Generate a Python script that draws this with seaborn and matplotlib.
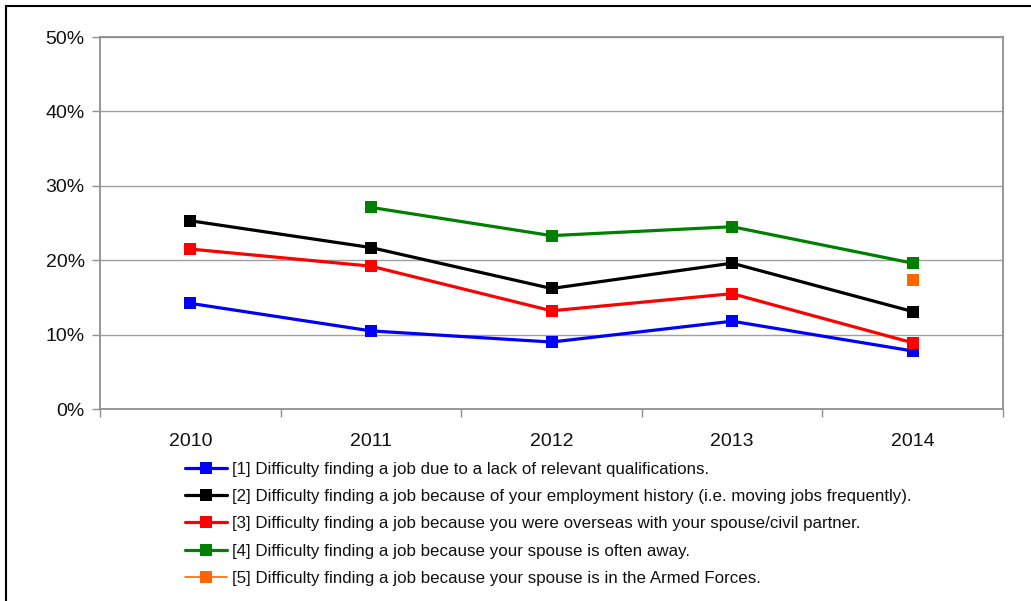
import matplotlib
matplotlib.use("Agg")
import matplotlib.pyplot as plt
from matplotlib.lines import Line2D
from matplotlib.patches import Rectangle
import numpy as np
import pandas as pd
import seaborn as sns

years = [2010, 2011, 2012, 2013, 2014]
qualifications = [14.2, 10.5, 9.0, 11.8, 7.8]
employment_history = [25.3, 21.7, 16.2, 19.6, 13.1]
overseas = [21.5, 19.2, 13.2, 15.5, 8.9]
spouse_away = [np.nan, 27.1, 23.3, 24.5, 19.6]
armed_forces = [np.nan, np.nan, np.nan, np.nan, 17.4]

labels = [
    "[1] Difficulty finding a job due to a lack of relevant qualifications.",
    "[2] Difficulty finding a job because of your employment history (i.e. moving jobs frequently).",
    "[3] Difficulty finding a job because you were overseas with your spouse/civil partner.",
    "[4] Difficulty finding a job because your spouse is often away.",
    "[5] Difficulty finding a job because your spouse is in the Armed Forces.",
]
colors = ["#0000ff", "#000000", "#ff0000", "#008000", "#ff6600"]
series = [qualifications, employment_history, overseas, spouse_away, armed_forces]

sns.set_theme(style="white")
plt.rcParams["font.family"] = ["Liberation Sans", "DejaVu Sans"]

fig = plt.figure(figsize=(10.31, 6.01), dpi=100)
W, H = 1031, 601
ax = fig.add_axes([100 / W, 1 - 409 / H, 903 / W, 372 / H])

# figure frame
fig.patches.append(Rectangle((6 / W, -0.1), 1.2, 1 - 6 / H + 0.1, transform=fig.transFigure,
                             fill=False, edgecolor="black", linewidth=1.5, zorder=0))

for vals, col, lab in zip(series, colors, labels):
    df = pd.DataFrame({"year": years, "value": vals}).dropna()
    if len(df) > 1:
        sns.lineplot(data=df, x="year", y="value", color=col, linewidth=2.3,
                     marker="s", markersize=8, markeredgewidth=0, ax=ax, zorder=3)
    else:
        sns.scatterplot(data=df, x="year", y="value", color=col, marker="s", s=70,
                        linewidth=0, ax=ax, zorder=3)

ax.set_xlim(2009.5, 2014.5)
ax.set_ylim(0, 50)
ax.set_yticks(np.arange(0, 51, 10))
ax.set_yticklabels([f"{v}%" for v in range(0, 51, 10)])
ax.set_xticks(years)
ax.set_xticklabels([str(y) for y in years])
ax.set_xticks(np.arange(2009.5, 2014.6, 1), minor=True)
ax.set_xlabel("")
ax.set_ylabel("")

for v in range(10, 51, 10):
    ax.axhline(v, color="#a0a0a0", linewidth=1.0, zorder=1)

for side in ["left", "right", "top", "bottom"]:
    ax.spines[side].set_visible(True)
    ax.spines[side].set_color("#909090")
    ax.spines[side].set_linewidth(1.3)

ax.tick_params(axis="y", which="major", length=6, width=1.0, color="#909090",
               labelsize=14, pad=5, left=True, labelcolor="#111111")
ax.tick_params(axis="x", which="major", length=0, labelsize=14, pad=17, labelcolor="#111111")
ax.tick_params(axis="x", which="minor", length=6, width=1.0, color="#909090", bottom=True)

handles = []
for col in colors:
    lw = 1.2 if col == "#ff6600" else 2.3
    handles.append(Line2D([0], [0], color=col, linewidth=lw, marker="s", markersize=8,
                          markeredgewidth=0))
fig.legend(handles, labels, loc="upper left", bbox_to_anchor=(185 / W, 1 - 462 / H),
           frameon=False, fontsize=12.2, handlelength=2.5, handletextpad=0.25,
           labelspacing=0.72, borderaxespad=0, borderpad=0, labelcolor="#111111")

fig.savefig("out.png", dpi=100)
